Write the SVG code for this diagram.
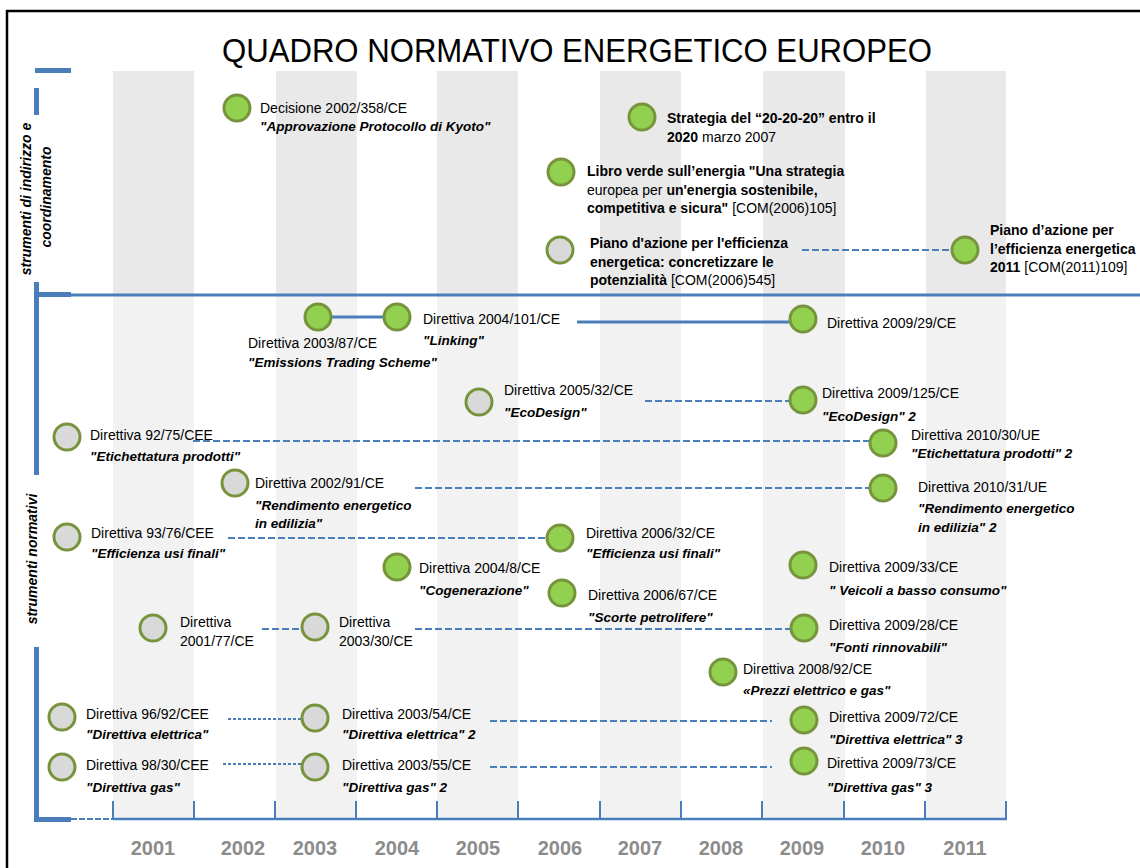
<svg xmlns="http://www.w3.org/2000/svg" width="1140" height="868" viewBox="0 0 1140 868">
<defs>
<style>
text{font-family:"Liberation Sans",Arial,sans-serif;fill:#000}
.t{font-size:14px}
.b{font-size:14px;font-weight:bold}
.n{font-weight:normal}
.i{font-size:13.5px;font-weight:bold;font-style:italic}
.yr{font-size:20px;font-weight:bold;fill:#8c8c8c;text-anchor:middle}
.side{font-size:14px;font-style:italic;font-weight:bold;text-anchor:middle}
.sU{fill:#e9e9e9}
.sL{fill:#f2f2f2}
.bar{fill:#4a7ebb}
.g{fill:#92d050;stroke:#77933c;stroke-width:3}
.y{fill:#d9d9d9;stroke:#77933c;stroke-width:3}
.c{stroke:#4a7ebb;fill:none}
.solid{stroke-width:3}
.dash{stroke-width:2;stroke-dasharray:7 3}
.dot{stroke-width:2;stroke-dasharray:3 2}
</style>
</defs>
<rect width="1140" height="868" fill="#fff"/>
<!-- frame -->
<path d="M7,868 V11 H1140" fill="none" stroke="#000" stroke-width="2.5"/>
<!-- stripes -->
<g id="stripes">
<rect class="sU" x="113" y="71" width="81" height="224"/>
<rect class="sU" x="276" y="71" width="81" height="224"/>
<rect class="sU" x="437" y="71" width="81" height="224"/>
<rect class="sU" x="600" y="71" width="81" height="224"/>
<rect class="sU" x="763" y="71" width="82" height="224"/>
<rect class="sU" x="926" y="71" width="80" height="224"/>
<rect class="sL" x="113" y="295" width="81" height="524"/>
<rect class="sL" x="276" y="295" width="81" height="524"/>
<rect class="sL" x="437" y="295" width="81" height="524"/>
<rect class="sL" x="600" y="295" width="81" height="524"/>
<rect class="sL" x="763" y="295" width="82" height="524"/>
<rect class="sL" x="926" y="295" width="80" height="524"/>
</g>
<text x="577" y="62" font-size="33" text-anchor="middle" textLength="710" lengthAdjust="spacingAndGlyphs" style="font-size:33px">QUADRO NORMATIVO ENERGETICO EUROPEO</text>
<!-- axes / bars -->
<g id="axes">
<rect class="bar" x="35" y="68" width="36" height="5"/>
<rect class="bar" x="34" y="88" width="5" height="27"/>
<rect class="bar" x="34" y="282" width="5" height="193"/>
<rect class="bar" x="34" y="647" width="5" height="175"/>
<rect class="bar" x="35" y="292" width="36" height="5"/>
<line x1="35" y1="295" x2="1140" y2="295" stroke="#4a7ebb" stroke-width="3"/>
<rect class="bar" x="35" y="817" width="36" height="5"/>
<line x1="71" y1="819" x2="113" y2="819" stroke="#4a7ebb" stroke-width="2" stroke-dasharray="6 2"/>
<line x1="113" y1="819" x2="1007" y2="819" stroke="#4a7ebb" stroke-width="2.5"/>
<path d="M113,801V819M194,801V819M275,801V819M356,801V819M437,801V819M518,801V819M600,801V819M681,801V819M762,801V819M844,801V819M925,801V819M1006,801V819" stroke="#4a7ebb" stroke-width="2"/>
</g>
<text class="side" transform="translate(31,199) rotate(-90)">strumenti di indirizzo e</text>
<text class="side" transform="translate(51,197) rotate(-90)">coordinamento</text>
<text class="side" transform="translate(37,559) rotate(-90)">strumenti normativi</text>
<!-- years -->
<g id="years">
<text class="yr" x="153" y="855">2001</text>
<text class="yr" x="243" y="855">2002</text>
<text class="yr" x="315" y="855">2003</text>
<text class="yr" x="397" y="855">2004</text>
<text class="yr" x="478" y="855">2005</text>
<text class="yr" x="560" y="855">2006</text>
<text class="yr" x="640" y="855">2007</text>
<text class="yr" x="721" y="855">2008</text>
<text class="yr" x="802" y="855">2009</text>
<text class="yr" x="883" y="855">2010</text>
<text class="yr" x="965" y="855">2011</text>
</g>
<!-- connectors -->
<g id="connectors" class="c">
<line class="c dash" x1="802" y1="250" x2="950" y2="250"/>
<line class="c solid" x1="332" y1="317" x2="384" y2="317"/>
<line class="c solid" x1="577" y1="322" x2="789" y2="322"/>
<line class="c dash" x1="645" y1="401" x2="789" y2="401"/>
<line class="c dash" x1="193" y1="441" x2="869" y2="441"/>
<line class="c dash" x1="415" y1="488" x2="869" y2="488"/>
<line class="c dash" x1="228" y1="538" x2="546" y2="538"/>
<line class="c dash" x1="262" y1="629" x2="301" y2="629"/>
<line class="c dash" x1="415" y1="629" x2="790" y2="629"/>
<line class="c dot" x1="228" y1="719" x2="301" y2="719"/>
<line class="c dash" x1="490" y1="721" x2="772" y2="721"/>
<line class="c dot" x1="223" y1="764" x2="301" y2="764"/>
<line class="c dash" x1="490" y1="767" x2="772" y2="767"/>
</g>
<!-- nodes -->
<g id="n-decisione"><circle class="g" cx="237" cy="108" r="13"/>
<text class="t" x="260" y="113">Decisione 2002/358/CE</text>
<text class="i" x="260" y="131">"Approvazione Protocollo di Kyoto"</text></g>
<g id="n-strategia"><circle class="g" cx="642" cy="117" r="13"/>
<text class="b" x="667" y="123">Strategia del “20-20-20” entro il</text>
<text class="b" x="667" y="142">2020<tspan class="n"> marzo 2007</tspan></text></g>
<g id="n-libroverde"><circle class="g" cx="561" cy="172" r="13"/>
<text class="b" x="587" y="176">Libro verde sull’energia "Una strategia</text>
<text class="t" x="587" y="195">europea per <tspan font-weight="bold">un'energia sostenibile,</tspan></text>
<text class="b" x="587" y="213">competitiva e sicura"<tspan class="n"> [COM(2006)105]</tspan></text></g>
<g id="n-piano2006"><circle class="y" cx="560" cy="250" r="13"/>
<text class="b" x="590" y="248">Piano d'azione per l'efficienza</text>
<text class="b" x="590" y="267">energetica: concretizzare le</text>
<text class="b" x="590" y="285">potenzialità<tspan class="n"> [COM(2006)545]</tspan></text></g>
<g id="n-piano2011"><circle class="g" cx="965" cy="250" r="13"/>
<text class="b" x="990" y="235">Piano d’azione per</text>
<text class="b" x="990" y="254">l’efficienza energetica</text>
<text class="b" x="990" y="272">2011<tspan class="n"> [COM(2011)109]</tspan></text></g>
<g id="n-2003-87"><circle class="g" cx="318" cy="317" r="13"/>
<text class="t" x="248" y="348">Direttiva 2003/87/CE</text>
<text class="i" x="248" y="367">"Emissions Trading Scheme"</text></g>
<g id="n-2004-101"><circle class="g" cx="397" cy="317" r="13"/>
<text class="t" x="423" y="324">Direttiva 2004/101/CE</text>
<text class="i" x="423" y="345">"Linking"</text></g>
<g id="n-2009-29"><circle class="g" cx="803" cy="319" r="13"/>
<text class="t" x="827" y="328">Direttiva 2009/29/CE</text></g>
<g id="n-2005-32"><circle class="y" cx="479" cy="402" r="13"/>
<text class="t" x="504" y="395">Direttiva 2005/32/CE</text>
<text class="i" x="504" y="417">"EcoDesign"</text></g>
<g id="n-2009-125"><circle class="g" cx="803" cy="400" r="13"/>
<text class="t" x="822" y="398">Direttiva 2009/125/CE</text>
<text class="i" x="822" y="421">"EcoDesign" 2</text></g>
<g id="n-92-75"><circle class="y" cx="67" cy="437" r="13"/>
<text class="t" x="90" y="440">Direttiva 92/75/CEE</text>
<text class="i" x="90" y="461">"Etichettatura prodotti"</text></g>
<g id="n-2010-30"><circle class="g" cx="883" cy="443" r="13"/>
<text class="t" x="911" y="440">Direttiva 2010/30/UE</text>
<text class="i" x="911" y="458">"Etichettatura prodotti" 2</text></g>
<g id="n-2002-91"><circle class="y" cx="235" cy="483" r="13"/>
<text class="t" x="255" y="488">Direttiva 2002/91/CE</text>
<text class="i" x="255" y="510">"Rendimento energetico</text>
<text class="i" x="255" y="528">in edilizia"</text></g>
<g id="n-2010-31"><circle class="g" cx="883" cy="488" r="13"/>
<text class="t" x="918" y="492">Direttiva 2010/31/UE</text>
<text class="i" x="918" y="513">"Rendimento energetico</text>
<text class="i" x="918" y="532">in edilizia" 2</text></g>
<g id="n-93-76"><circle class="y" cx="67" cy="537" r="13"/>
<text class="t" x="91" y="538">Direttiva 93/76/CEE</text>
<text class="i" x="91" y="558">"Efficienza usi finali"</text></g>
<g id="n-2006-32"><circle class="g" cx="560" cy="538" r="13"/>
<text class="t" x="586" y="538">Direttiva 2006/32/CE</text>
<text class="i" x="586" y="558">"Efficienza usi finali"</text></g>
<g id="n-2004-8"><circle class="g" cx="397" cy="567" r="13"/>
<text class="t" x="419" y="573">Direttiva 2004/8/CE</text>
<text class="i" x="419" y="595">"Cogenerazione"</text></g>
<g id="n-2006-67"><circle class="g" cx="562" cy="593" r="13"/>
<text class="t" x="588" y="600">Direttiva 2006/67/CE</text>
<text class="i" x="588" y="622">"Scorte petrolifere"</text></g>
<g id="n-2009-33"><circle class="g" cx="803" cy="565" r="13"/>
<text class="t" x="829" y="572">Direttiva 2009/33/CE</text>
<text class="i" x="829" y="595">" Veicoli a basso consumo"</text></g>
<g id="n-2001-77"><circle class="y" cx="153" cy="628" r="13"/>
<text class="t" x="180" y="627">Direttiva</text>
<text class="t" x="180" y="646">2001/77/CE</text></g>
<g id="n-2003-30"><circle class="y" cx="315" cy="627" r="13"/>
<text class="t" x="339" y="627">Direttiva</text>
<text class="t" x="339" y="646">2003/30/CE</text></g>
<g id="n-2009-28"><circle class="g" cx="804" cy="628" r="13"/>
<text class="t" x="829" y="630">Direttiva 2009/28/CE</text>
<text class="i" x="829" y="652">"Fonti rinnovabili"</text></g>
<g id="n-2008-92"><circle class="g" cx="723" cy="672" r="13"/>
<text class="t" x="743" y="674">Direttiva 2008/92/CE</text>
<text class="i" x="743" y="695">«Prezzi elettrico e gas"</text></g>
<g id="n-96-92"><circle class="y" cx="62" cy="717" r="13"/>
<text class="t" x="86" y="719">Direttiva 96/92/CEE</text>
<text class="i" x="86" y="739">"Direttiva elettrica"</text></g>
<g id="n-2003-54"><circle class="y" cx="315" cy="718" r="13"/>
<text class="t" x="342" y="719">Direttiva 2003/54/CE</text>
<text class="i" x="342" y="739">"Direttiva elettrica" 2</text></g>
<g id="n-2009-72"><circle class="g" cx="804" cy="720" r="13"/>
<text class="t" x="829" y="722">Direttiva 2009/72/CE</text>
<text class="i" x="829" y="744">"Direttiva elettrica" 3</text></g>
<g id="n-98-30"><circle class="y" cx="62" cy="767" r="13"/>
<text class="t" x="86" y="770">Direttiva 98/30/CEE</text>
<text class="i" x="86" y="792">"Direttiva gas"</text></g>
<g id="n-2003-55"><circle class="y" cx="315" cy="767" r="13"/>
<text class="t" x="342" y="770">Direttiva 2003/55/CE</text>
<text class="i" x="342" y="792">"Direttiva gas" 2</text></g>
<g id="n-2009-73"><circle class="g" cx="804" cy="761" r="13"/>
<text class="t" x="827" y="768">Direttiva 2009/73/CE</text>
<text class="i" x="827" y="792">"Direttiva gas" 3</text></g>
</svg>
